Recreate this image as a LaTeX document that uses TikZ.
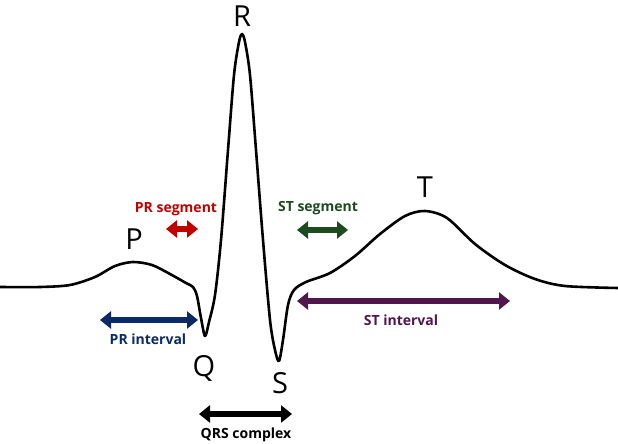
\documentclass[tikz,border=0pt]{standalone}
\usepackage{fontspec}
\setmainfont{Open Sans}
\usetikzlibrary{arrows.meta}
\definecolor{prred}{HTML}{C00000}
\definecolor{stgreen}{HTML}{1D4A1F}
\definecolor{prblue}{HTML}{0B2A66}
\definecolor{stpurple}{HTML}{52164F}
\tikzset{
  wave/.style={line width=2.6pt, line join=round, line cap=round},
  bigletter/.style={font=\fontsize{29}{29}\selectfont, inner sep=0pt},
  lbl/.style={font=\bfseries\fontsize{14}{15}\selectfont, inner sep=0pt},
  dbl/.style={line width=6.5pt, {Triangle[length=11pt,width=17pt]}-{Triangle[length=11pt,width=17pt]}, shorten <=0pt, shorten >=0pt}
}
\begin{document}
\begin{tikzpicture}[x=1pt,y=-1pt]
\useasboundingbox (0,0) rectangle (618,444);
% ECG trace
\draw[wave] plot[smooth, tension=0.5] coordinates {
(0,287) (40,287) (70,285) (95,277) (115,266) (133,262) (152,265) (170,274) (186,283) (193,287)
(197,296) (201,318) (205,336) (209,322) (215,295) (221,240) (228,150) (234,75) (239,42) (242,34)
(245,42) (250,75) (256,150) (263,240) (270,320) (275,350) (279,361) (283,340) (288,305) (294,290)
(306,282) (330,273) (355,256) (380,234) (405,216) (425,211) (447,218) (475,244) (505,265)
(535,279) (565,286) (618,288)};
% letters
\node[bigletter] (P) at (134,239) {P};
\node[bigletter] (R) at (242,16) {R};
\node[bigletter] (Q) at (204,368) {Q};
\node[bigletter] (S) at (280,383) {S};
\node[bigletter] (T) at (425,187) {T};
% arrows
\coordinate (prsA) at (166,229); \coordinate (prsB) at (198,229);
\coordinate (stsA) at (297,230); \coordinate (stsB) at (348,230);
\coordinate (priA) at (100,320); \coordinate (priB) at (198,320);
\coordinate (stiA) at (297,301); \coordinate (stiB) at (510,301);
\coordinate (qrsA) at (199,414); \coordinate (qrsB) at (292,414);
\draw[dbl, prred] (prsA) -- (prsB);
\draw[dbl, stgreen] (stsA) -- (stsB);
\draw[dbl, prblue] (priA) -- (priB);
\draw[dbl, stpurple] (stiA) -- (stiB);
\draw[dbl, black] (qrsA) -- (qrsB);
% labels
\node[lbl, text=prred] (prsL) at (176,209) {PR segment};
\node[lbl, text=stgreen] (stsL) at (318,208) {ST segment};
\node[lbl, text=prblue] (priL) at (148,339) {PR interval};
\node[lbl, text=stpurple] (stiL) at (401,320) {ST interval};
\node[lbl, text=black] (qrsL) at (246,435) {QRS complex};
\end{tikzpicture}
\end{document}
